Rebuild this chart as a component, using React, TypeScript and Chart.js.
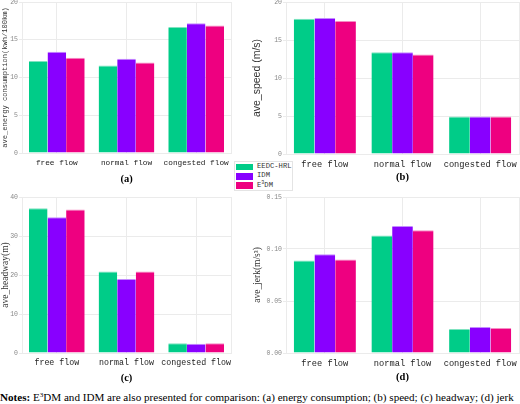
import React, { useEffect, useRef } from "react";
import { Chart, registerables } from "chart.js";

Chart.register(...registerables);

// ---- data ----
const categories = ["free flow", "normal flow", "congested flow"];
const seriesLabels = ["EEDC-HRL", "IDM", "E³DM"];

const energyEEDC = [12.2, 11.6, 16.7];
const energyIDM = [13.4, 12.5, 17.2];
const energyE3DM = [12.6, 12.0, 16.9];

const speedEEDC = [17.8, 13.4, 4.93];
const speedIDM = [17.9, 13.4, 4.93];
const speedE3DM = [17.5, 13.1, 4.95];

const headwayEEDC = [37.1, 20.9, 2.5];
const headwayIDM = [34.8, 19.0, 2.4];
const headwayE3DM = [36.8, 20.9, 2.5];

const jerkEEDC = [0.089, 0.113, 0.023];
const jerkIDM = [0.095, 0.122, 0.025];
const jerkE3DM = [0.09, 0.118, 0.024];

const energyTicks = [0, 5, 10, 15, 20];
const speedTicks = [0, 5, 10, 15, 20];
const headwayTicks = [0, 10, 20, 30, 40];
const jerkTicks = [0, 0.05, 0.1, 0.15];
const jerkTickLabels = ["0.00", "0.05", "0.10", "0.15"];

const panelLabels = ["(a)", "(b)", "(c)", "(d)"];
const yTitles = [
  "ave_energy consumption(kwh/100km)",
  "ave_speed (m/s)",
  "ave_headway(m)",
  "ave_jerk(m/s³)",
];

// ---- styles ----
const seriesColors = ["#00CC88", "#8800FF", "#EE0080"];
const seriesBorders = ["#7fe3c0", "#c38cff", "#f58cc4"];
const GRID = "#ebebeb";
const MONO = "'Liberation Mono', 'DejaVu Sans Mono', monospace";
const SERIF = "'Liberation Serif', 'DejaVu Serif', serif";
const SANS = "'Liberation Sans', 'DejaVu Sans', sans-serif";

type PanelProps = {
  left: number;
  top: number;
  width: number;
  height: number;
  yWidth: number;
  xHeight: number;
  values: number[][];
  ticks: number[];
  tickLabels?: string[];
  yTitle: string;
  yTitleFamily: string;
  yTitleSize: number;
  yTitlePad: number;
  xFontSize: number;
  xPad: number;
  label: string;
};

function Panel(p: PanelProps) {
  const ref = useRef<HTMLCanvasElement>(null);
  useEffect(() => {
    const tickVals = p.ticks;
    const chart = new Chart(ref.current as HTMLCanvasElement, {
      type: "bar",
      data: {
        labels: categories,
        datasets: p.values.map((v, i) => ({
          label: seriesLabels[i],
          data: v,
          backgroundColor: seriesColors[i],
          borderColor: seriesBorders[i],
          borderWidth: { top: 1, right: 0, bottom: 0, left: 0 },
          categoryPercentage: 0.8,
          barPercentage: 1.0,
        })),
      },
      options: {
        animation: false,
        responsive: false,
        devicePixelRatio: 1,
        layout: { padding: { top: 4, right: 1, left: 0, bottom: 0 } },
        plugins: {
          legend: { display: false },
          tooltip: { enabled: false },
        },
        scales: {
          x: {
            type: "category",
            grid: { color: GRID, offset: false, drawTicks: false },
            border: { color: GRID },
            ticks: {
              autoSkip: false,
              maxRotation: 0,
              minRotation: 0,
              padding: p.xPad,
              color: "#222",
              font: { family: MONO, size: p.xFontSize },
            },
            title: {
              display: true,
              text: p.label,
              color: "#000",
              font: { family: SERIF, size: 10.5, weight: "bold", lineHeight: 1 },
              padding: { top: 0, bottom: 0 },
            },
            afterFit: (s: any) => {
              s.height = p.xHeight;
              s.paddingLeft = 0;
              s.paddingRight = 0;
            },
          },
          y: {
            type: "linear",
            min: tickVals[0],
            max: tickVals[tickVals.length - 1],
            grid: { color: GRID, tickColor: GRID, tickLength: 3 },
            border: { display: true, color: GRID },
            afterBuildTicks: (s: any) => {
              s.ticks = tickVals.map((v) => ({ value: v }));
            },
            ticks: {
              padding: 1,
              color: "#888",
              font: { family: MONO, size: 6.5 },
              callback: (v: any) => {
                const idx = tickVals.indexOf(Number(v));
                if (p.tickLabels && idx >= 0) return p.tickLabels[idx];
                return String(v);
              },
            },
            title: {
              display: true,
              text: p.yTitle,
              color: "#333",
              font: { family: p.yTitleFamily, size: p.yTitleSize, lineHeight: 1 },
              padding: { top: p.yTitlePad, bottom: 0 },
            },
            afterFit: (s: any) => {
              s.width = p.yWidth;
              s.paddingTop = 0;
              s.paddingBottom = 0;
            },
          },
          y2: {
            type: "linear",
            position: "right",
            min: 0,
            max: 1,
            grid: { drawOnChartArea: false, drawTicks: false },
            ticks: { display: false },
            border: { display: true, color: GRID },
            afterFit: (s: any) => {
              s.width = 0;
              s.paddingTop = 0;
              s.paddingBottom = 0;
            },
          },
        },
      } as any,
    });
    return () => chart.destroy();
  }, []);
  return (
    <canvas
      ref={ref}
      width={p.width}
      height={p.height}
      style={{
        position: "absolute",
        left: p.left,
        top: p.top,
        width: p.width,
        height: p.height,
      }}
    />
  );
}

function Legend() {
  return (
    <div
      style={{
        position: "absolute",
        left: 234,
        top: 161,
        width: 57,
        height: 28,
        border: "1px solid #e4e4e4",
        background: "#fff",
        zIndex: 2,
      }}
    >
      {seriesLabels.map((name, i) => (
        <div
          key={name}
          style={{
            position: "absolute",
            left: 0,
            top: 1 + i * 9.4,
            height: 7,
            width: 57,
          }}
        >
          <div
            style={{
              position: "absolute",
              left: 1,
              top: 0.5,
              width: 17,
              height: 6.7,
              background: seriesColors[i],
            }}
          />
          <div
            style={{
              position: "absolute",
              left: 22,
              top: -1,
              fontFamily: MONO,
              fontSize: 7.2,
              lineHeight: "9px",
              color: "#333",
              whiteSpace: "nowrap",
            }}
          >
            {name === "E³DM" ? (
              <span>
                E<sup style={{ fontSize: 5, verticalAlign: "3px", lineHeight: 0 }}>3</sup>DM
              </span>
            ) : (
              name
            )}
          </div>
        </div>
      ))}
    </div>
  );
}

export default function App() {
  return (
    <div
      style={{
        position: "fixed",
        left: 0,
        top: 0,
        width: 520,
        height: 404,
        background: "#fff",
        overflow: "hidden",
      }}
    >
      <Panel
        left={0}
        top={-2}
        width={232}
        height={187}
        yWidth={22}
        xHeight={32}
        values={[energyEEDC, energyIDM, energyE3DM]}
        ticks={energyTicks}
        yTitle={yTitles[0]}
        yTitleFamily={MONO}
        yTitleSize={7.1}
        yTitlePad={1.5}
        xFontSize={7.75}
        xPad={5}
        label={panelLabels[0]}
      />
      <Panel
        left={250}
        top={-2}
        width={270}
        height={185}
        yWidth={36}
        xHeight={29}
        values={[speedEEDC, speedIDM, speedE3DM]}
        ticks={speedTicks}
        yTitle={yTitles[1]}
        yTitleFamily={SANS}
        yTitleSize={10.5}
        yTitlePad={1.75}
        xFontSize={8.7}
        xPad={5.5}
        label={panelLabels[1]}
      />
      <Panel
        left={0}
        top={193}
        width={232}
        height={191}
        yWidth={22}
        xHeight={31}
        values={[headwayEEDC, headwayIDM, headwayE3DM]}
        ticks={headwayTicks}
        yTitle={yTitles[2]}
        yTitleFamily={SERIF}
        yTitleSize={9.5}
        yTitlePad={0.25}
        xFontSize={8.3}
        xPad={5}
        label={panelLabels[2]}
      />
      <Panel
        left={250}
        top={193}
        width={270}
        height={190}
        yWidth={36}
        xHeight={30}
        values={[jerkEEDC, jerkIDM, jerkE3DM]}
        ticks={jerkTicks}
        tickLabels={jerkTickLabels}
        yTitle={yTitles[3]}
        yTitleFamily={SERIF}
        yTitleSize={9.5}
        yTitlePad={2.25}
        xFontSize={8.7}
        xPad={5.5}
        label={panelLabels[3]}
      />
      <Legend />
      <div
        style={{
          position: "absolute",
          left: 0,
          top: 392,
          fontFamily: SERIF,
          fontSize: 11.1,
          lineHeight: "11px",
          color: "#000",
          whiteSpace: "nowrap",
        }}
      >
        <b>Notes:</b> E<sup style={{ fontSize: 7, verticalAlign: "4px", lineHeight: 0 }}>3</sup>DM and
        IDM are also presented for comparison: (a) energy consumption; (b) speed; (c) headway; (d) jerk
      </div>
    </div>
  );
}
